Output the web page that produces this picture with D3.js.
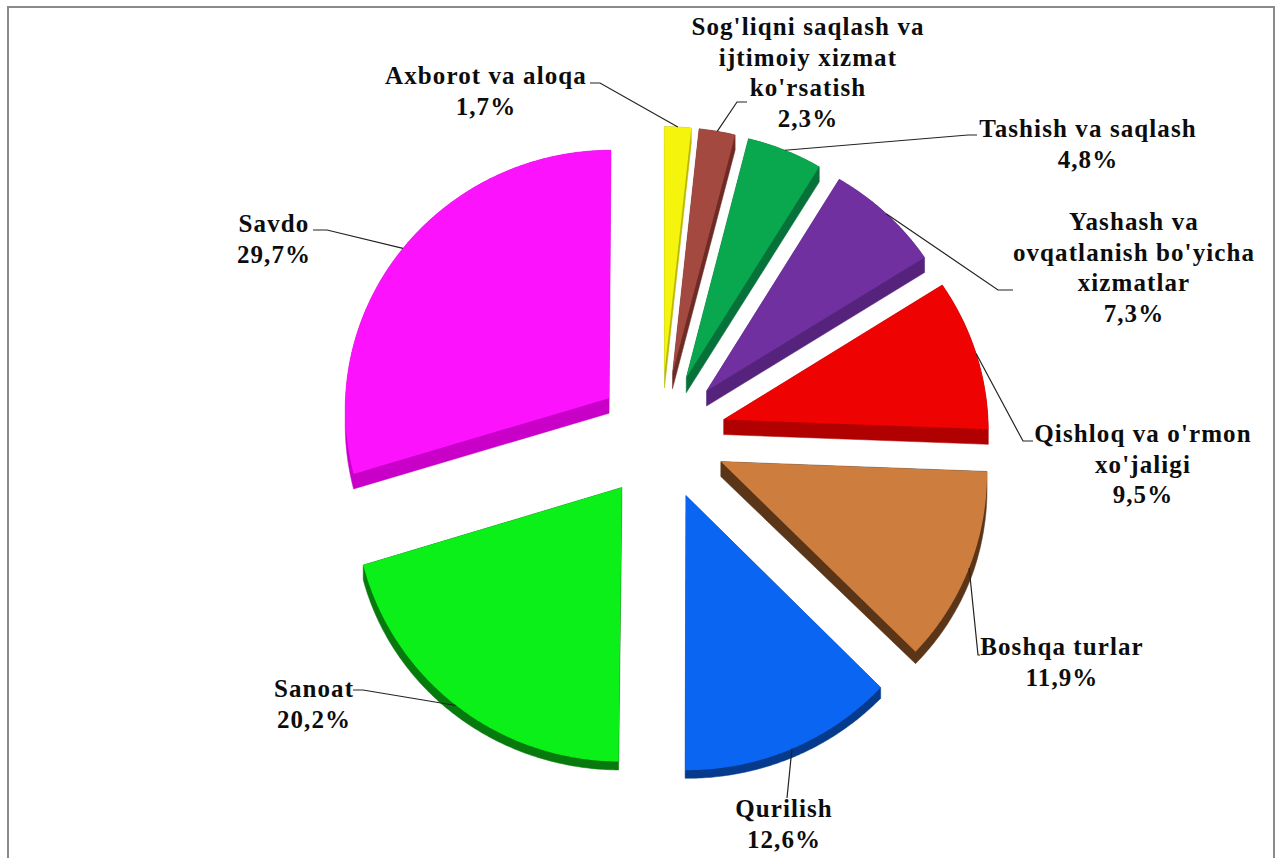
<!DOCTYPE html>
<html>
<head>
<meta charset="utf-8">
<script src="https://cdn.jsdelivr.net/npm/d3@7"></script>
<style>
  body { margin: 0; background: #fff; }
  .labels { font-family: "Liberation Serif", "Times New Roman", serif; font-weight: bold; font-size: 25px; fill: #0d0d0d; letter-spacing: 1.1px; }
</style>
</head>
<body>
<svg id="chart" width="1279" height="858"></svg>
<script>
// sectors, clockwise from 12 o'clock
var categories = ["Axborot va aloqa", "Sog'liqni saqlash va ijtimoiy xizmat ko'rsatish", "Tashish va saqlash",
                  "Yashash va ovqatlanish bo'yicha xizmatlar", "Qishloq va o'rmon xo'jaligi", "Boshqa turlar",
                  "Qurilish", "Sanoat", "Savdo"];
var values = [1.7, 2.3, 4.8, 7.3, 9.5, 11.9, 12.6, 20.2, 29.7];
// category names broken the way the chart shows them
var labelLines = [["Axborot va aloqa"], ["Sog'liqni saqlash va", "ijtimoiy xizmat", "ko'rsatish"], ["Tashish va saqlash"],
                  ["Yashash va", "ovqatlanish bo'yicha", "xizmatlar"], ["Qishloq va o'rmon", "xo'jaligi"], ["Boshqa turlar"],
                  ["Qurilish"], ["Sanoat"], ["Savdo"]];

var topColors  = ["#f4f40c", "#a3493f", "#0aa84e", "#7030a0", "#ee0202", "#cd7d3e", "#0a66f2", "#0af018", "#fd12fd"];
var sideColors = ["#b8b800", "#6e2a24", "#06723a", "#55237c", "#b00000", "#5a3518", "#063a8c", "#067a0c", "#c800c8"];

// label placement: centre x, first baseline, leader elbow and end next to the text
var labelLayout = [
  {x: 486,  y: 84,  elbow: [600, 83],  end: [590, 83]},
  {x: 808,  y: 35,  elbow: [737, 102], end: [747, 102]},
  {x: 1088, y: 137, elbow: [968, 135], end: [977, 135]},
  {x: 1134, y: 230, elbow: [998, 290], end: [1013, 290]},
  {x: 1143, y: 442, elbow: [1023, 441], end: [1033, 441]},
  {x: 1062, y: 655, elbow: [978, 655], end: [980, 655]},
  {x: 784,  y: 817, elbow: [787, 798], end: [787, 798]},
  {x: 314,  y: 697, elbow: [363, 690], end: [353, 690]},
  {x: 274,  y: 232, elbow: [327, 230], end: [313, 230]}
];

var lineGap = 30.5;
var cx = 661, cy = 436, R = 265, explode = 65;
var tilt = 0.981, persp = 1.4e-4;

// pie plane -> screen, slight perspective (far side a bit smaller)
function project(px, py) {
  var g = 1 / (1 - py * persp);
  return [cx + px * g, cy + py * tilt * g];
}
// side thickness, thinner toward the front edge
var depth = d3.scaleLinear().domain([120, 330]).range([15, 8]).clamp(true);

var pct = function(v) { return d3.format(".1f")(v).replace(".", ",") + "%"; };

var svg = d3.select("#chart");

svg.append("rect")
   .attr("x", 8).attr("y", 7)
   .attr("width", 1266).attr("height", 900)
   .attr("fill", "none")
   .attr("stroke", "#8a8a8a")
   .attr("stroke-width", 2);

var pie = d3.pie().sort(null).value(function(d){ return d; });
var arcs = pie(values);

var slices = arcs.map(function(a, i) {
  var mid = (a.startAngle + a.endAngle) / 2;
  var ox = explode * Math.sin(mid), oy = -explode * Math.cos(mid);
  var pts = [[ox, oy]];
  var steps = Math.max(4, Math.ceil((a.endAngle - a.startAngle) / 0.01));
  for (var k = 0; k <= steps; k++) {
    var t = a.startAngle + (a.endAngle - a.startAngle) * k / steps;
    pts.push([ox + R * Math.sin(t), oy - R * Math.cos(t)]);
  }
  var top = pts.map(function(p){ return project(p[0], p[1]); });
  var low = pts.map(function(p){ var s = project(p[0], p[1]); return [s[0], s[1] + depth(p[1])]; });
  var attach = project((explode + R) * Math.sin(mid), -(explode + R) * Math.cos(mid));
  return {i: i, top: top, side: d3.polygonHull(top.concat(low)), attach: attach};
});

var line = d3.line();

var g = svg.append("g");
g.selectAll(".side")
  .data(slices)
  .enter().append("path")
  .attr("class", "side")
  .attr("d", function(d){ return line(d.side) + "Z"; })
  .attr("fill", function(d){ return sideColors[d.i]; })
  .attr("stroke", function(d){ return sideColors[d.i]; })
  .attr("stroke-width", 0.5);

g.selectAll(".top")
  .data(slices)
  .enter().append("path")
  .attr("class", "top")
  .attr("d", function(d){ return line(d.top) + "Z"; })
  .attr("fill", function(d){ return topColors[d.i]; });

// leader lines
svg.append("g").selectAll("path")
  .data(slices)
  .enter().append("path")
  .attr("d", function(d){
    var L = labelLayout[d.i];
    return line([d.attach, L.elbow, L.end]);
  })
  .attr("fill", "none")
  .attr("stroke", "#222")
  .attr("stroke-width", 1.2);

// labels
var lab = svg.append("g").selectAll("text")
  .data(categories)
  .enter().append("text")
  .attr("class", "labels")
  .attr("text-anchor", "middle")
  .attr("x", function(d, i){ return labelLayout[i].x; })
  .attr("y", function(d, i){ return labelLayout[i].y; });

lab.each(function(d, i) {
  var t = d3.select(this);
  var rows = labelLines[i].concat([pct(values[i])]);
  rows.forEach(function(r, k) {
    t.append("tspan")
     .attr("x", labelLayout[i].x)
     .attr("y", labelLayout[i].y + k * lineGap)
     .text(r);
  });
});
</script>
</body>
</html>
